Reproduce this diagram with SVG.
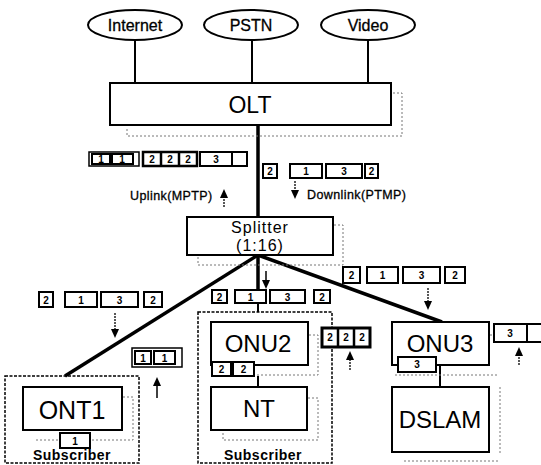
<svg xmlns="http://www.w3.org/2000/svg" width="541" height="465" viewBox="0 0 541 465">
<defs>
<path id="up" d="M0,0 L-4,9 L4,9 z" fill="#000"/>
<path id="dn" d="M0,0 L-4,-9 L4,-9 z" fill="#000"/>
<style>
text{font-family:"Liberation Sans","DejaVu Sans",Arial,sans-serif;fill:#000}
.box{fill:#fff;stroke:#000;stroke-width:2}
.sub{fill:none;stroke:#000;stroke-width:1.5;stroke-dasharray:3,1.5}
.shadow{fill:none;stroke:#777;stroke-width:1;stroke-dasharray:2,2}
.cell{fill:#fff;stroke:#000;stroke-width:2}
.ct{font-size:10px;font-weight:bold;text-anchor:middle}
.lbl{font-size:12.5px;stroke:#000;stroke-width:0.3;letter-spacing:0.4px}
.el{font-size:16px;text-anchor:middle;stroke:#000;stroke-width:0.3}
.thin{stroke:#000;stroke-width:2;fill:none}
.thick{stroke:#000;stroke-width:3.5;fill:none}
.arr{stroke:#000;stroke-width:1.3;stroke-dasharray:2,1;fill:none}
</style>
</defs>
<rect width="541" height="465" fill="#fff"/>

<g id="connectors">
<line class="thin" x1="135" y1="40" x2="135" y2="83"/>
<line class="thin" x1="252" y1="40" x2="252" y2="83"/>
<line class="thin" x1="368" y1="40" x2="368" y2="83"/>
<line class="thick" x1="258" y1="125" x2="258" y2="217"/>
<line class="thick" x1="258" y1="255" x2="65" y2="376"/>
<line class="thick" x1="258" y1="255" x2="258" y2="292"/>
<line class="thin" x1="258" y1="303" x2="258" y2="312"/>
<line class="thick" x1="258" y1="255" x2="442" y2="322"/>
<line class="thin" x1="258" y1="376" x2="258" y2="387"/>
<line class="thin" x1="440" y1="365" x2="440" y2="387"/>
</g>

<g id="internet"><ellipse cx="135" cy="25" rx="47" ry="15" fill="#fff" stroke="#000" stroke-width="2"/><text class="el" x="135" y="31">Internet</text></g>
<g id="pstn"><ellipse cx="251" cy="25" rx="47" ry="15" fill="#fff" stroke="#000" stroke-width="2"/><text class="el" x="251" y="31">PSTN</text></g>
<g id="video"><ellipse cx="368" cy="25" rx="47" ry="15" fill="#fff" stroke="#000" stroke-width="2"/><text class="el" x="368" y="31">Video</text></g>

<g id="olt">
<path class="shadow" d="M393,93 H402 V136 H127 V128"/>
<rect class="box" x="110" y="83" width="281" height="42"/>
<text x="250" y="113" font-size="23" text-anchor="middle">OLT</text>
</g>

<g id="splitter">
<path class="shadow" d="M334,225 H343 V265 H198 V256"/>
<rect class="box" x="187" y="217" width="146" height="38"/>
<text x="260" y="233" font-size="16" letter-spacing="1" text-anchor="middle">Splitter</text>
<text x="260" y="251" font-size="16" letter-spacing="1" text-anchor="middle">(1:16)</text>
</g>

<g id="uplink-olt">
<rect x="89" y="152" width="50" height="14" fill="#fff" stroke="#000" stroke-width="1.5"/>
<rect class="cell" x="92" y="154" width="18" height="10"/><text class="ct" x="101" y="163">1</text>
<rect class="cell" x="112" y="154" width="21" height="10"/><text class="ct" x="122" y="163">1</text>
<rect x="143" y="152" width="54" height="14" fill="#fff" stroke="#000" stroke-width="2.5"/>
<line x1="161" y1="152" x2="161" y2="166" stroke="#000" stroke-width="2.5"/>
<line x1="179" y1="152" x2="179" y2="166" stroke="#000" stroke-width="2.5"/>
<text class="ct" x="152" y="163">2</text><text class="ct" x="170" y="163">2</text><text class="ct" x="188" y="163">2</text>
<rect class="cell" x="200" y="152" width="47" height="14"/>
<line x1="232" y1="152" x2="232" y2="166" stroke="#000" stroke-width="2"/>
<text class="ct" x="216" y="163">3</text>
<text class="lbl" x="130" y="200">Uplink(MPTP)</text>
<line class="arr" x1="224" y1="207" x2="224" y2="196"/>
<use href="#up" x="224" y="189"/>
</g>

<g id="downlink-olt">
<rect class="cell" x="263" y="164" width="14" height="14"/><text class="ct" x="270" y="175">2</text>
<rect class="cell" x="290" y="164" width="32" height="14"/><text class="ct" x="306" y="175">1</text>
<rect class="cell" x="326" y="164" width="36" height="14"/><text class="ct" x="344" y="175">3</text>
<rect class="cell" x="365" y="164" width="13" height="14"/><text class="ct" x="371.5" y="175">2</text>
<line class="arr" x1="295" y1="181" x2="295" y2="191"/>
<use href="#dn" x="295" y="199"/>
<text class="lbl" x="307" y="199">Downlink(PTMP)</text>
</g>

<g id="ont1-subscriber">
<rect class="sub" x="5" y="376" width="134" height="87"/>
<path class="shadow" d="M123,397 H133 V440 H35"/>
<rect class="box" x="23" y="387" width="99" height="43"/>
<text x="72" y="419" font-size="25" text-anchor="middle">ONT1</text>
<rect class="cell" x="60" y="433" width="30" height="15"/><text class="ct" x="75" y="445">1</text>
<text x="72" y="460" font-size="14" font-weight="bold" text-anchor="middle" letter-spacing="0.5">Subscriber</text>
</g>

<g id="downlink-ont1">
<rect class="cell" x="39" y="292" width="14" height="15"/><text class="ct" x="46" y="304">2</text>
<rect class="cell" x="65" y="292" width="32" height="15"/><text class="ct" x="81" y="304">1</text>
<rect class="cell" x="101" y="292" width="37" height="15"/><text class="ct" x="119.5" y="304">3</text>
<rect class="cell" x="144" y="292" width="18" height="15"/><text class="ct" x="153" y="304">2</text>
<line class="arr" x1="115" y1="313" x2="115" y2="330"/>
<use href="#dn" x="115" y="338"/>
</g>

<g id="uplink-ont1">
<rect x="132" y="348" width="50" height="19" fill="#fff" stroke="#000" stroke-width="1.5"/>
<rect class="cell" x="135" y="351" width="16" height="13"/><text class="ct" x="143" y="362">1</text>
<rect class="cell" x="154" y="351" width="21" height="13"/><text class="ct" x="164.5" y="362">1</text>
<line x1="157" y1="398" x2="157" y2="385" stroke="#000" stroke-width="1.5"/>
<use href="#up" x="157" y="377"/>
</g>

<g id="onu2-subscriber">
<rect class="sub" x="198" y="312" width="134" height="151"/>
<path class="shadow" d="M309,335 H318 V375 H257"/>
<rect class="box" x="211" y="322" width="97" height="43"/>
<text x="258" y="352" font-size="24" text-anchor="middle">ONU2</text>
<rect class="cell" x="212" y="362" width="19" height="14"/><text class="ct" x="221.5" y="373">2</text>
<rect class="cell" x="233" y="362" width="21" height="14"/><text class="ct" x="243.5" y="373">2</text>
<path class="shadow" d="M308,398 H318 V440 H223 V432"/>
<rect class="box" x="211" y="387" width="96" height="43"/>
<text x="259" y="417" font-size="24" text-anchor="middle">NT</text>
<text x="263" y="460" font-size="14" font-weight="bold" text-anchor="middle" letter-spacing="0.5">Subscriber</text>
</g>

<g id="downlink-onu2">
<rect class="cell" x="212" y="290" width="15" height="13"/><text class="ct" x="219.5" y="301">2</text>
<rect class="cell" x="235" y="290" width="31" height="13"/><text class="ct" x="250.5" y="301">1</text>
<rect class="cell" x="270" y="290" width="35" height="13"/><text class="ct" x="287.5" y="301">3</text>
<rect class="cell" x="314" y="290" width="16" height="13"/><text class="ct" x="322" y="301">2</text>
<line x1="266" y1="271" x2="266" y2="281" stroke="#000" stroke-width="1.5"/>
<use href="#dn" x="266" y="289"/>
</g>

<g id="uplink-onu2">
<rect x="322" y="328" width="48" height="19" fill="#fff" stroke="#000" stroke-width="3"/>
<line x1="338" y1="328" x2="338" y2="347" stroke="#000" stroke-width="2.5"/>
<line x1="354" y1="328" x2="354" y2="347" stroke="#000" stroke-width="2.5"/>
<text class="ct" x="330" y="341">2</text><text class="ct" x="346" y="341">2</text><text class="ct" x="362" y="341">2</text>
<line class="arr" x1="350" y1="370" x2="350" y2="358"/>
<use href="#up" x="350" y="351"/>
</g>

<g id="onu3">
<path class="shadow" d="M490,335 H500 M395,375 H498 M500,387 V455 M404,461 H498" stroke="#aaa"/>
<rect class="box" x="392" y="322" width="97" height="43"/>
<text x="440" y="352" font-size="24" text-anchor="middle">ONU3</text>
<rect class="cell" x="398" y="357" width="38" height="15"/><text class="ct" x="417" y="368">3</text>
</g>

<g id="dslam">
<rect class="box" x="392" y="387" width="97" height="65"/>
<text x="440" y="428" font-size="24" text-anchor="middle">DSLAM</text>
</g>

<g id="downlink-onu3">
<rect class="cell" x="343" y="267" width="17" height="16"/><text class="ct" x="351.5" y="279">2</text>
<rect class="cell" x="367" y="267" width="31" height="16"/><text class="ct" x="382.5" y="279">1</text>
<rect class="cell" x="403" y="267" width="37" height="16"/><text class="ct" x="421.5" y="279">3</text>
<rect class="cell" x="445" y="267" width="20" height="16"/><text class="ct" x="455" y="279">2</text>
<line class="arr" x1="428" y1="288" x2="428" y2="302"/>
<use href="#dn" x="428" y="310"/>
</g>

<g id="uplink-onu3">
<rect class="cell" x="494" y="324" width="60" height="18"/>
<line x1="527" y1="324" x2="527" y2="342" stroke="#000" stroke-width="2"/>
<text class="ct" x="510" y="337">3</text>
<line class="arr" x1="519" y1="365" x2="519" y2="354"/>
<use href="#up" x="519" y="347"/>
</g>
</svg>
